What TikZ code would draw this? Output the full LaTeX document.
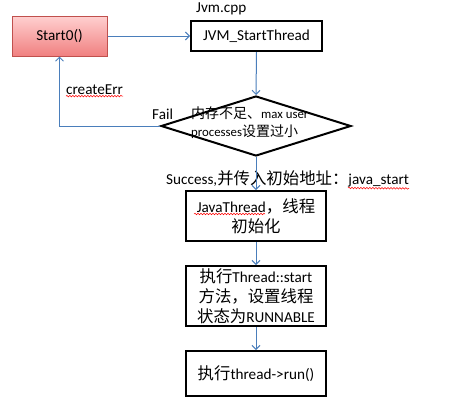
\documentclass[tikz,border=0pt]{standalone}
\usepackage{fontspec}
\setmainfont{Carlito}
\newfontfamily\cjk{Noto Sans CJK SC}
\newcommand{\zh}[1]{{\cjk\fontsize{16.4}{20}\selectfont #1}}
\newcommand{\zs}[1]{{\cjk\fontsize{14}{18}\selectfont #1}}
\usetikzlibrary{arrows.meta,shapes.geometric,decorations.pathmorphing}
\begin{document}
\begin{tikzpicture}[x=1pt,y=-1pt,
  every node/.style={font=\fontsize{15.2}{20}\selectfont, inner sep=0pt},
  blk/.style={draw=black, line width=2pt, fill=white, minimum width=140pt},
  conn/.style={draw={rgb,255:red,74;green,126;blue,187}, line width=1pt, -{Straight Barb[length=4pt,width=8pt]}},
  lbl/.style={anchor=west},
  squig/.style={draw=red, line width=0.5pt, decorate, decoration={snake, amplitude=0.8pt, segment length=3pt}}]
\useasboundingbox (0,0) rectangle (457,410);
\fill[white] (0,0) rectangle (457,410);

\node[draw={rgb,255:red,192;green,80;blue,77}, line width=1pt,
  top color={rgb,255:red,255;green,208;blue,208}, bottom color={rgb,255:red,240;green,128;blue,128},
  minimum width=95pt, minimum height=40pt] (start) at (59.5,36) {Start0()};
\node[blk, minimum width=131pt, minimum height=30pt] (jvm) at (256.5,36) {JVM\_StartThread};
\node[lbl] (jvmcpp) at (196,9) {Jvm.cpp};

\node[draw=black, line width=2pt, shape=diamond, aspect=3.17, minimum width=190pt, minimum height=60pt] (dia) at (256,126) {};
\node[lbl, align=left, font=\fontsize{12.8}{18}\selectfont] (diatxt) at (191,123) {\zs{内存不足、}max user\\processes\zs{设置过小}};

\node[lbl] (fail) at (152,114) {Fail};
\node[lbl] (cerr) at (66,90) {createErr};
\node[lbl] (succ) at (166,179) {Success,\zh{并传入初始地址：}java\_start};

\node[blk, minimum height=50pt, align=center] (java) at (256,216) {JavaThread\zh{，线程}\\\zh{初始化}};
\node[blk, minimum height=60pt, align=center] (tstart) at (256,296) {\zh{执行}Thread::start\\\zh{方法，设置线程}\\\zh{状态为}RUNNABLE};
\node[blk, minimum height=45pt] (run) at (256,373.5) {\zh{执行}thread->run()};

\draw[conn] (start.east) -- (jvm.west);
\draw[conn] (jvm.south) -- (dia.north);
\draw[conn] (dia.west) -| (start.south);
\draw[conn] (dia.south) -- (java.north);
\draw[conn] (java.south) -- (tstart.north);
\draw[conn] (tstart.south) -- (run.north);

\draw[squig] ([yshift=-1pt]cerr.south west) -- ([yshift=-1pt]cerr.south east);
\draw[squig] (348,188) -- ([yshift=-1pt]succ.south east);
\draw[squig] (194,214) -- (265,214);
\end{tikzpicture}
\end{document}
